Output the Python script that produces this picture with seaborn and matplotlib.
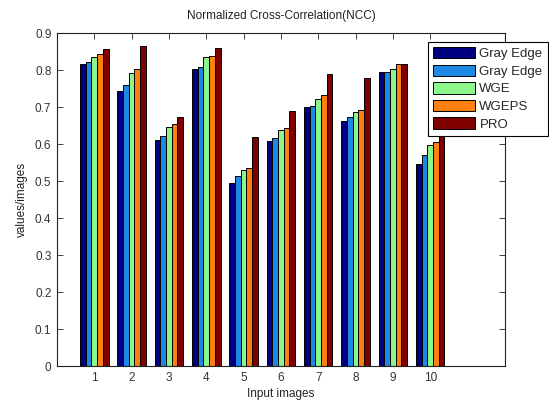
import matplotlib
matplotlib.use("Agg")
import matplotlib.pyplot as plt
import seaborn as sns
import pandas as pd
from matplotlib.patches import Patch

images = [1, 2, 3, 4, 5, 6, 7, 8, 9, 10]
series_labels = ["Gray Edge", "Gray Edge", "WGE", "WGEPS", "PRO"]
gray_edge_1 = [0.817, 0.743, 0.611, 0.804, 0.495, 0.607, 0.699, 0.663, 0.795, 0.546]
gray_edge_2 = [0.822, 0.759, 0.621, 0.809, 0.514, 0.617, 0.704, 0.672, 0.795, 0.569]
wge = [0.835, 0.791, 0.646, 0.835, 0.530, 0.638, 0.722, 0.686, 0.804, 0.598]
wgeps = [0.842, 0.804, 0.653, 0.839, 0.536, 0.644, 0.733, 0.691, 0.815, 0.605]
pro = [0.856, 0.865, 0.674, 0.859, 0.619, 0.689, 0.788, 0.778, 0.815, 0.625]
colors = ["#000080", "#1E88E5", "#8CF58C", "#FF7F10", "#800000"]

series_values = [gray_edge_1, gray_edge_2, wge, wgeps, pro]
rows = []
for si, vals in enumerate(series_values):
    for img, v in zip(images, vals):
        rows.append({"image": str(img), "series": f"s{si}", "value": v})
df = pd.DataFrame(rows)

sns.set_style("ticks")
plt.rcParams["font.family"] = ["Liberation Sans", "DejaVu Sans"]

fig = plt.figure(figsize=(5.49, 4.03), dpi=100)
ax = fig.add_axes([0.1038, 0.0918, 0.816, 0.8263])

palette = {f"s{i}": c for i, c in enumerate(colors)}
sns.barplot(data=df, x="image", y="value", hue="series", palette=palette,
            width=0.76, gap=0, edgecolor="black", linewidth=0.7,
            saturation=1, legend=False, ax=ax, order=[str(i) for i in images])

ax.set_xlim(-1.0, 11.0)
ax.set_ylim(0, 0.9)
ax.set_yticks([0, 0.1, 0.2, 0.3, 0.4, 0.5, 0.6, 0.7, 0.8, 0.9])
ax.set_yticklabels(["0", "0.1", "0.2", "0.3", "0.4", "0.5", "0.6", "0.7", "0.8", "0.9"])
ax.tick_params(direction="in", top=True, right=True, length=4, width=0.6,
               labelsize=8.5, colors="#222222", labelcolor="#333333", pad=4)
for s in ax.spines.values():
    s.set_visible(True)
    s.set_linewidth(0.8)
    s.set_color("#222222")

ax.set_xlabel("Input images", fontsize=8.5, color="#222222", labelpad=3)
ax.set_ylabel("values/images", fontsize=8.5, color="#222222", labelpad=5)
ax.set_title("Normalized Cross-Correlation(NCC)", fontsize=8.5, color="#222222", pad=10)

handles = [Patch(facecolor=c, edgecolor="black", linewidth=0.7) for c in colors]
leg = fig.legend(handles, series_labels, loc="upper left",
                 bbox_to_anchor=(0.779, 0.897), bbox_transform=fig.transFigure,
                 fontsize=9.5, frameon=True, fancybox=False, framealpha=1,
                 edgecolor="black", handlelength=3.2, handleheight=0.95,
                 handletextpad=0.3, labelspacing=0.33, borderpad=0.42,
                 borderaxespad=0)
leg.get_frame().set_linewidth(0.8)

fig.savefig("out.png", dpi=100, facecolor="white")
